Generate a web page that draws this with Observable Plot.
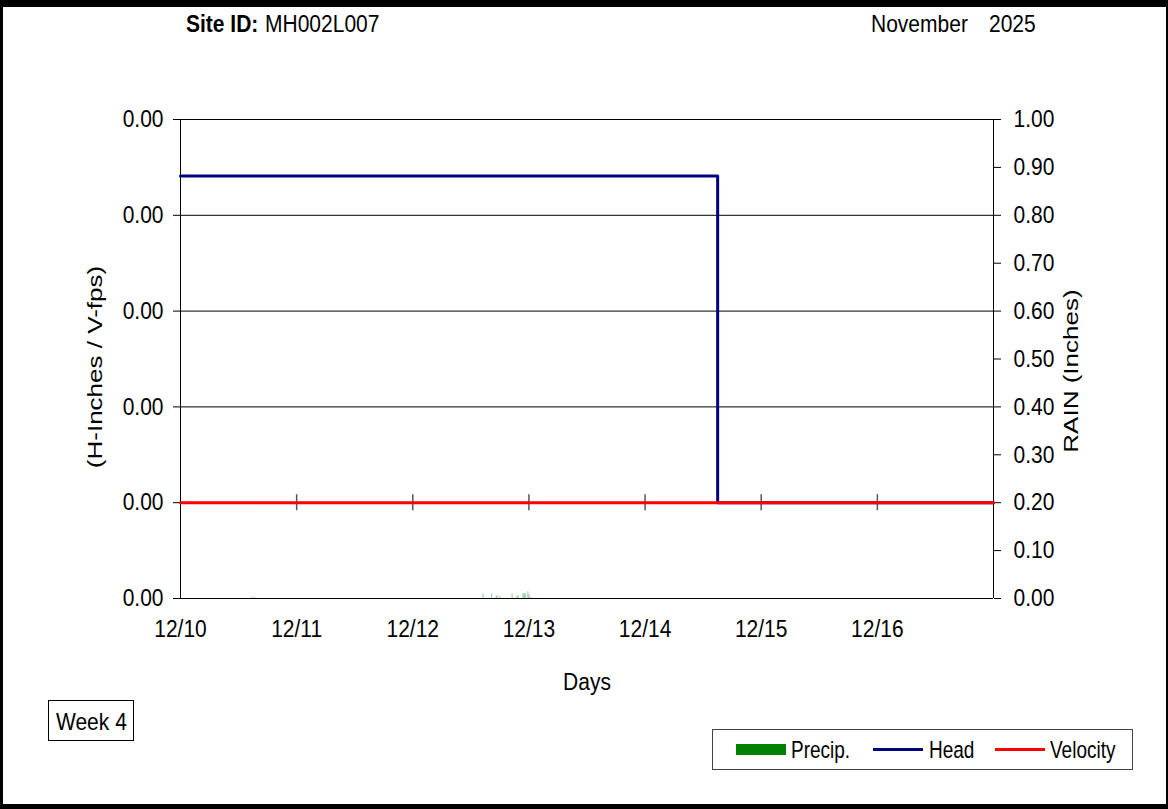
<!DOCTYPE html>
<html>
<head>
<meta charset="utf-8">
<script src="https://cdn.jsdelivr.net/npm/d3@7"></script>
<script src="https://cdn.jsdelivr.net/npm/@observablehq/plot@0.6"></script>
<style>
  html, body { margin: 0; padding: 0; background: #000; }
  body { width: 1168px; height: 809px; position: relative; overflow: hidden; font-family: "Liberation Sans", Arial, sans-serif; }
  #page { position: absolute; left: 3px; top: 7px; width: 1163px; height: 797px; background: #fff; }
  .t { position: absolute; font-size: 21px; color: #000; white-space: nowrap; line-height: 1; transform: scaleY(1.15); transform-origin: center; }
  #legend .t { font-size: 19px; transform: scaleY(1.25); }
  #chart { position: absolute; left: 0; top: 0; }
  #legend { position: absolute; left: 712px; top: 729px; width: 419px; height: 39px; border: 1px solid #444; background: #fff; }
  #week { position: absolute; left: 48px; top: 700px; width: 84px; height: 39px; border: 1px solid #000; background: #fff; }
</style>
</head>
<body>
<div id="page"></div>
<div id="chart"></div>
<div class="t" style="left:186px; top:13px; font-weight:bold;">Site ID:</div>
<div class="t" style="left:265px; top:13px;">MH002L007</div>
<div class="t" style="left:871px; top:13px;">November</div>
<div class="t" style="left:989px; top:13px;">2025</div>
<div id="week"><div class="t" style="left:7px; top:10px;">Week 4</div></div>
<div id="legend"></div>
<script>
// ---------- data ----------
const dayTicks = ["2025-12-10","2025-12-11","2025-12-12","2025-12-13","2025-12-14","2025-12-15","2025-12-16"];
const xDomain = ["2025-12-10T00:00","2025-12-17T00:00"];

const headTimes = ["2025-12-10T00:00","2025-12-14T15:00","2025-12-17T00:00"];
const headValues = [0.00341, 0, 0];

const velocityTimes = ["2025-12-10T00:00","2025-12-17T00:00"];
const velocityValues = [0, 0];

const precipTimes = ["2025-12-10T14:45","2025-12-10T15:15","2025-12-12T14:30","2025-12-12T16:15","2025-12-12T17:15","2025-12-12T17:30","2025-12-12T18:00","2025-12-12T20:30","2025-12-12T21:30","2025-12-12T21:45","2025-12-12T22:45","2025-12-12T23:00","2025-12-12T23:15","2025-12-12T23:45","2025-12-13T00:00","2025-12-13T00:15"];
const precipValues = [0.003,0.003,0.01,0.01,0.005,0.005,0.004,0.01,0.005,0.006,0.01,0.01,0.01,0.014,0.008,0.002];

const leftTicks = [-0.001, 0, 0.001, 0.002, 0.003, 0.004];
const rainTicks = [0,0.1,0.2,0.3,0.4,0.5,0.6,0.7,0.8,0.9,1.0];

const legendItems = ["Precip.","Head","Velocity"];
const legendColors = ["#008000","#000080","#ff0000"];

// ---------- build ----------
const T = s => new Date(s + (s.length > 10 ? ":00Z" : "T00:00:00Z"));
const yMin = -0.001, yMax = 0.004;
const rainToY = r => yMin + r * (yMax - yMin);          // secondary axis mapped onto primary
const yToRain = y => (y - yMin) / (yMax - yMin);

const head = headTimes.map((t, i) => ({t: T(t), v: headValues[i]}));
const velocity = velocityTimes.map((t, i) => ({t: T(t), v: velocityValues[i]}));
const precip = precipTimes.map((t, i) => ({t: T(t), v: precipValues[i]}));
const days = dayTicks.map(T);
const inner = days.slice(1);
const tickHalf = 0.0000834;

const font = {fontSize: 21, fontFamily: "Liberation Sans, Arial, sans-serif"};

const chart = Plot.plot({
  width: 1168,
  height: 700,
  marginLeft: 180,
  marginRight: 175,
  marginTop: 119,
  marginBottom: 102,
  style: {background: "transparent", fontSize: "21px", fontFamily: "Liberation Sans, Arial, sans-serif", color: "#000", overflow: "visible"},
  x: {type: "utc", domain: xDomain.map(T)},
  y: {domain: [yMin, yMax]},
  marks: [
    Plot.ruleY(leftTicks, {stroke: "#000", strokeWidth: 1}),
    Plot.rect(precip, {x1: "t", x2: d => d3.utcMinute.offset(d.t, 15), y1: () => rainToY(0), y2: d => rainToY(d.v), fill: "#008000", fillOpacity: 0.35}),
    Plot.ruleX([T(xDomain[0]), T(xDomain[1])], {stroke: "#000", strokeWidth: 1}),
    Plot.ruleX(inner, {x: d => d, y1: -tickHalf, y2: tickHalf, stroke: "#555", strokeWidth: 1.5}),
    Plot.axisY({ticks: leftTicks, tickFormat: d => d3.format(".2f")(d), tickSize: 7, tickPadding: 10, label: null, fontSize: 21}),
    Plot.axisY(rainTicks.map(rainToY), {anchor: "right", tickFormat: d => yToRain(d).toFixed(2), tickSize: 7, tickPadding: 13, label: null, fontSize: 21}),
    Plot.axisX(days, {tickSize: 0, tickPadding: 21, tickFormat: d3.utcFormat("%m/%d"), label: null, fontSize: 21}),
    Plot.line(head, {x: "t", y: "v", curve: "step-after", stroke: "#000080", strokeWidth: 3}),
    Plot.line(velocity, {x: "t", y: "v", stroke: "#ff0000", strokeWidth: 3}),
    Plot.text(["Days"], {frameAnchor: "bottom", dy: 91, ...font}),
    Plot.text(["(H-Inches / V-fps)"], {frameAnchor: "left", dx: -85, dy: 8, rotate: -90, textAnchor: "middle", ...font}),
    Plot.text(["RAIN (Inches)"], {frameAnchor: "right", dx: 78, dy: 12, rotate: -90, textAnchor: "middle", ...font})
  ]
});
document.getElementById("chart").appendChild(chart);

// emulate the vertically stretched lettering of the original
chart.querySelectorAll("text").forEach(el => {
  const tr = el.getAttribute("transform") || "";
  if (tr.includes("rotate")) el.setAttribute("transform", tr + " scale(1.24,1)");
  else el.setAttribute("transform", tr + " scale(1,1.15)");
});

// legend
const lg = document.getElementById("legend");
const swX = [23, 160, 282];
const txX = [78, 216, 337];
legendItems.forEach((name, i) => {
  const sw = document.createElement("div");
  sw.style.position = "absolute";
  sw.style.left = swX[i] + "px";
  sw.style.width = "50px";
  sw.style.background = legendColors[i];
  if (i === 0) { sw.style.top = "14px"; sw.style.height = "11px"; }
  else { sw.style.top = "18px"; sw.style.height = "3px"; }
  lg.appendChild(sw);
  const tx = document.createElement("div");
  tx.className = "t";
  tx.style.left = txX[i] + "px";
  tx.style.top = "10px";
  tx.textContent = name;
  lg.appendChild(tx);
});
</script>
</body>
</html>
